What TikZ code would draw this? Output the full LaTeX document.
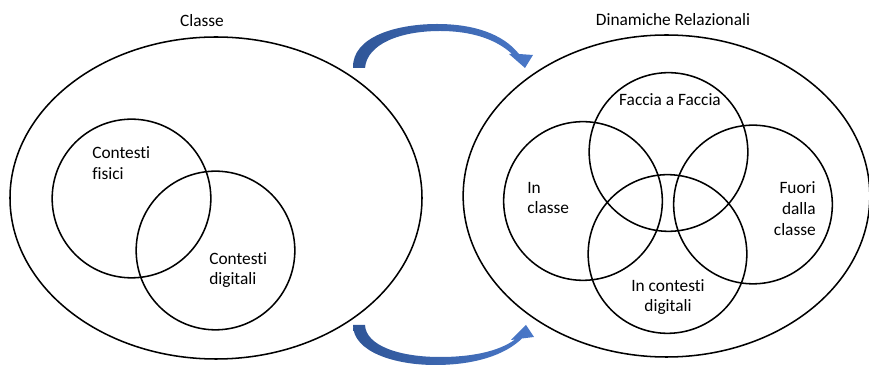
\documentclass[tikz,border=0pt]{standalone}
\usepackage{fontspec}
\setmainfont{Carlito}[Ligatures=NoCommon]
\usetikzlibrary{shapes.geometric}
\definecolor{arrdark}{HTML}{2F5597}
\definecolor{arrlight}{HTML}{4A78C8}
\tikzset{
  bigell/.style={draw=black, line width=1.15pt, ellipse, inner sep=0pt},
  venn/.style={draw=black, line width=1.15pt, circle, inner sep=0pt, minimum size=119pt},
  lbl/.style={inner sep=0pt, font=\fontsize{13}{15.5}\selectfont},
  blockarrow/.style={left color=arrdark, right color=arrlight, draw=none}
}
\begin{document}
\begin{tikzpicture}[x=0.75pt, y=-0.75pt]
\useasboundingbox (0,0) rectangle (869,366);
% left ellipse
\node[bigell, minimum width=309pt, minimum height=241.5pt] (classe) at (216,198) {};
\node[venn] (fisici) at (131.5,198.5) {};
\node[venn] (digitali) at (215.5,250.5) {};
\node[lbl] (tclasse) at (202,21) {Classe};
\node[lbl, anchor=west, align=left] (tfisici) at (92,163) {Contesti\\fisici};
\node[lbl, anchor=west, align=left] (tdigitali) at (209,270) {Contesti\\digitali};
% right ellipse
\node[bigell, minimum width=305pt, minimum height=241.5pt] (dinamiche) at (666.5,196) {};
\node[venn] (faccia) at (668.5,152) {};
\node[venn] (inclasse) at (583,201) {};
\node[venn] (fuori) at (753,204.5) {};
\node[venn] (incontesti) at (667.5,254) {};
\node[lbl] (tdinamiche) at (673,20) {Dinamiche Relazionali};
\node[lbl] (tfaccia) at (670,100) {Faccia a Faccia};
\node[lbl, anchor=west, align=left] (tinclasse) at (527,198) {In\\classe};
\node[lbl, anchor=east, align=right] (tfuori) at (816,208.5) {Fuori\\dalla\\classe};
\node[lbl, align=center] (tincontesti) at (668,297) {In contesti\\digitali};
% top curved block arrow
\shade[blockarrow] (353,68) .. controls (352,36) and (398,24) .. (437,24)
  .. controls (474,24) and (503,34) .. (519,54)
  -- (533,55) -- (525,68) -- (509,54) -- (512,54)
  .. controls (497,40) and (473,31) .. (440,31)
  .. controls (400,31) and (367,44) .. (365,68) -- cycle;
% bottom curved block arrow
\shade[blockarrow] (353,325) .. controls (353,352) and (395,365) .. (435,365)
  .. controls (475,365) and (505,355) .. (522,338.5)
  -- (534,337) -- (526,325) -- (511,340) -- (515,339.5)
  .. controls (498,352) and (470,357) .. (440,357)
  .. controls (400,357) and (366,346) .. (365,325) -- cycle;
\end{tikzpicture}
\end{document}
